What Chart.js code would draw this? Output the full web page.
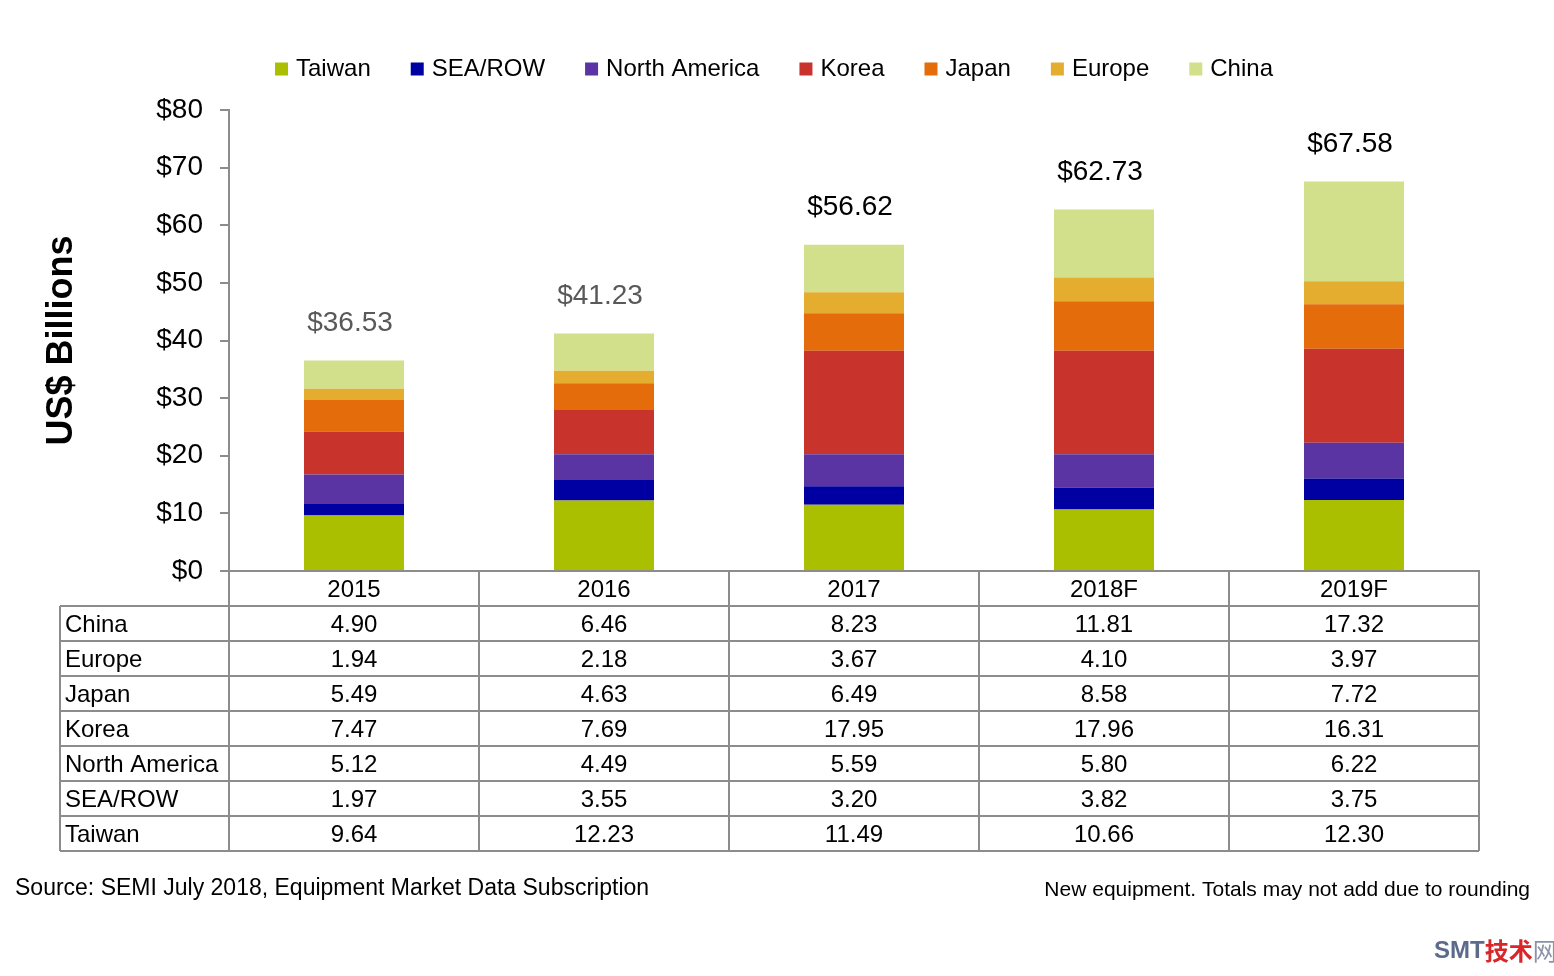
<!DOCTYPE html>
<html>
<head>
<meta charset="utf-8">
<script src="https://cdn.jsdelivr.net/npm/chart.js@4"></script>
<style>
  html, body { margin: 0; padding: 0; background: #fff; }
  #wrap { width: 1554px; height: 976px; }
</style>
</head>
<body>
<div id="wrap"><canvas id="myChart" width="1554" height="976"></canvas></div>
<script>
const years    = ['2015', '2016', '2017', '2018F', '2019F'];
const taiwan   = [9.64, 12.23, 11.49, 10.66, 12.30];
const seaRow   = [1.97, 3.55, 3.20, 3.82, 3.75];
const northAm  = [5.12, 4.49, 5.59, 5.80, 6.22];
const korea    = [7.47, 7.69, 17.95, 17.96, 16.31];
const japan    = [5.49, 4.63, 6.49, 8.58, 7.72];
const europe   = [1.94, 2.18, 3.67, 4.10, 3.97];
const china    = [4.90, 6.46, 8.23, 11.81, 17.32];
const totals   = [36.53, 41.23, 56.62, 62.73, 67.58];
const yTicks   = [0, 10, 20, 30, 40, 50, 60, 70, 80];

const FONT = "'Liberation Sans', Arial, sans-serif";
const LINE = '#8c8c8c';

// legend drawn by hand so it can sit where the original has it
const legendPlugin = {
  id: 'topLegend',
  afterDraw(chart) {
    const ctx = chart.ctx;
    const sets = chart.data.datasets;
    ctx.save();
    ctx.font = '24px ' + FONT;
    const box = 13, gap = 8, space = 40;
    const widths = sets.map(d => box + gap + ctx.measureText(d.label).width);
    const total = widths.reduce((a, b) => a + b, 0) + space * (sets.length - 1);
    let x = 774 - total / 2;
    const y = 68;
    ctx.textBaseline = 'middle';
    ctx.textAlign = 'left';
    sets.forEach((d, i) => {
      ctx.fillStyle = d.backgroundColor;
      ctx.fillRect(x, y - box / 2 + 1, box, box);
      ctx.fillStyle = '#000';
      ctx.fillText(d.label, x + box + gap, y + 1);
      x += widths[i] + space;
    });
    ctx.restore();
  }
};

// totals above each bar
const totalsPlugin = {
  id: 'totals',
  afterDatasetsDraw(chart) {
    const ctx = chart.ctx;
    const xs = chart.scales.x, ys = chart.scales.y;
    ctx.save();
    ctx.font = '28px ' + FONT;
    ctx.textAlign = 'center';
    ctx.textBaseline = 'middle';
    totals.forEach((t, i) => {
      ctx.fillStyle = i < 2 ? '#595959' : '#000';
      ctx.fillText('$' + t.toFixed(2), xs.getPixelForValue(i) - 4, ys.getPixelForValue(t) - 37);
    });
    ctx.restore();
  }
};

// data table under the x axis
const tablePlugin = {
  id: 'dataTable',
  afterDraw(chart) {
    const ctx = chart.ctx;
    const area = chart.chartArea;
    const xs = chart.scales.x;
    const rows = chart.data.datasets.slice().reverse();
    const rowH = 35;
    const leftX = 60;
    const colW = (area.right - area.left) / years.length;
    const top = area.bottom;
    const bottom = top + rowH * (rows.length + 1);

    ctx.save();
    ctx.strokeStyle = LINE;
    ctx.lineWidth = 2;
    ctx.beginPath();
    // horizontal lines
    for (let r = 1; r <= rows.length + 1; r++) {
      const y = top + r * rowH;
      ctx.moveTo(leftX, y);
      ctx.lineTo(area.right, y);
    }
    // vertical lines
    for (let c = 0; c <= years.length; c++) {
      const x = area.left + c * colW;
      ctx.moveTo(x, top);
      ctx.lineTo(x, bottom);
    }
    ctx.moveTo(leftX, top + rowH);
    ctx.lineTo(leftX, bottom);
    ctx.stroke();

    ctx.font = '24px ' + FONT;
    ctx.fillStyle = '#000';
    ctx.textBaseline = 'middle';
    ctx.textAlign = 'center';
    years.forEach((yr, i) => ctx.fillText(yr, xs.getPixelForValue(i), top + rowH / 2 + 2));
    rows.forEach((d, r) => {
      const y = top + (r + 1.5) * rowH + 2;
      ctx.textAlign = 'left';
      ctx.fillText(d.label, leftX + 5, y);
      ctx.textAlign = 'center';
      d.data.forEach((v, i) => ctx.fillText(v.toFixed(2), xs.getPixelForValue(i), y));
    });

    // footer notes
    ctx.textAlign = 'left';
    ctx.font = '23px ' + FONT;
    ctx.fillText('Source: SEMI July 2018, Equipment Market Data Subscription', 15, 889);
    ctx.textAlign = 'right';
    ctx.font = '21px ' + FONT;
    ctx.fillText('New equipment. Totals may not add due to rounding', 1530, 890);

    // watermark
    ctx.font = 'bold 24px ' + FONT;
    ctx.textAlign = 'left';
    ctx.fillStyle = '#5b6b8c';
    ctx.fillText('SMT', 1434, 951);
    const w = ctx.measureText('SMT').width;
    ctx.font = 'bold 24px "Noto Sans CJK SC", sans-serif';
    ctx.fillStyle = '#d9262b';
    ctx.fillText('技术', 1434 + w, 951);
    const w2 = ctx.measureText('技术').width;
    ctx.fillStyle = '#8a93a8';
    ctx.font = '24px "Noto Sans CJK SC", sans-serif';
    ctx.fillText('网', 1434 + w + w2, 951);
    ctx.restore();
  }
};

const ctx1 = document.getElementById('myChart').getContext('2d');

const myChart = new Chart(ctx1, {
  type: 'bar',
  data: {
    labels: years,
    datasets: [
      { label: 'Taiwan',        data: taiwan,  backgroundColor: '#a9bf00' },
      { label: 'SEA/ROW',       data: seaRow,  backgroundColor: '#0000a2' },
      { label: 'North America', data: northAm, backgroundColor: '#5b34a3' },
      { label: 'Korea',         data: korea,   backgroundColor: '#c8332b' },
      { label: 'Japan',         data: japan,   backgroundColor: '#e46c0a' },
      { label: 'Europe',        data: europe,  backgroundColor: '#e4ad2f' },
      { label: 'China',         data: china,   backgroundColor: '#d3e08b' }
    ]
  },
  options: {
    responsive: false,
    animation: false,
    events: [],
    layout: { padding: { left: 0, top: 110, right: 75, bottom: 405 } },
    datasets: { bar: { barPercentage: 0.4, categoryPercentage: 1.0, borderWidth: 0 } },
    plugins: {
      legend: { display: false },
      tooltip: { enabled: false }
    },
    scales: {
      x: {
        stacked: true,
        grid: { display: false },
        ticks: { display: false },
        border: { display: true, color: LINE, width: 2 },
        afterFit(scale) { scale.height = 0; }
      },
      y: {
        stacked: true,
        min: 0,
        max: 80,
        afterBuildTicks(scale) { scale.ticks = yTicks.map(v => ({ value: v })); },
        ticks: {
          padding: 17,
          color: '#000',
          font: { family: FONT, size: 28 },
          callback: v => '$' + v
        },
        grid: { drawOnChartArea: false, drawTicks: true, tickLength: 9, color: LINE, lineWidth: 2 },
        border: { display: true, color: LINE, width: 2 },
        title: {
          display: true,
          text: 'US$ Billions',
          color: '#000',
          font: { family: FONT, size: 36, weight: 'bold' },
          padding: { top: 40 }
        },
        afterFit(scale) { scale.width = 229; }
      }
    }
  },
  plugins: [legendPlugin, totalsPlugin, tablePlugin]
});
</script>
</body>
</html>
